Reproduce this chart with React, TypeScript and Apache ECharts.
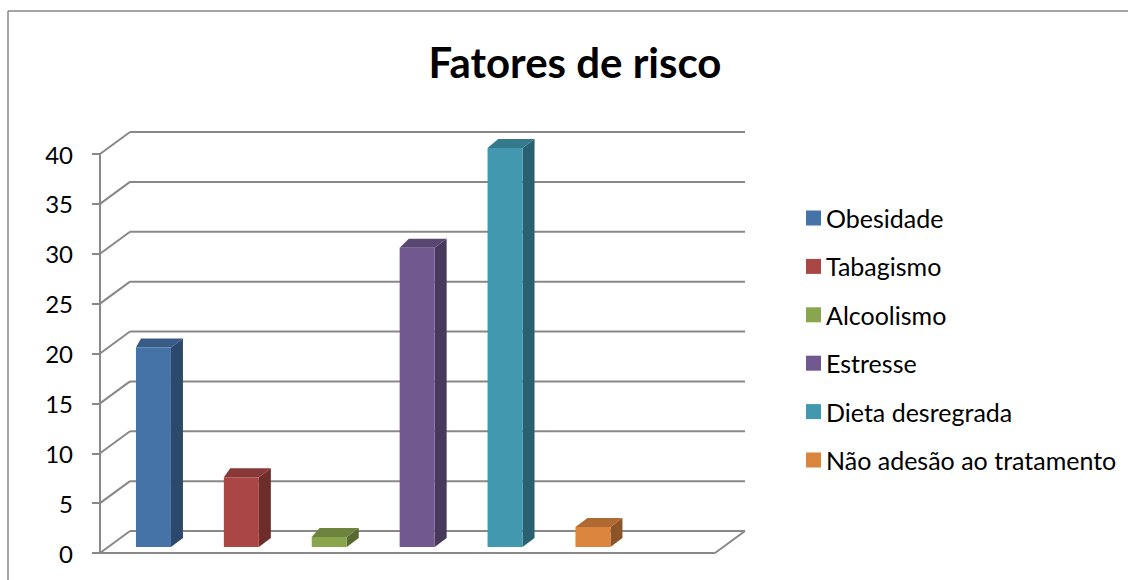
import React, { useEffect, useRef } from "react";
import * as echarts from "echarts";

const categories = [
  "Obesidade",
  "Tabagismo",
  "Alcoolismo",
  "Estresse",
  "Dieta desregrada",
  "Não adesão ao tratamento",
];
const values = [20, 7, 1, 30, 40, 2];
const colors = ["#4572A7", "#AA4643", "#89A54E", "#71588F", "#4198AF", "#DB843D"];
const yTicks = [0, 5, 10, 15, 20, 25, 30, 35, 40];
const titleText = "Fatores de risco";

const FONT = "Lato, 'Open Sans', sans-serif";
const GRID_COLOR = "#888888";
const DEPTH_X = 30;
const DEPTH_Y = -22;
const FLOOR_LEN = 615;

function shade(hex: string, k: number): string {
  const n = parseInt(hex.slice(1), 16);
  const r = Math.round(((n >> 16) & 255) * k);
  const g = Math.round(((n >> 8) & 255) * k);
  const b = Math.round((n & 255) * k);
  return `rgb(${r},${g},${b})`;
}

export default function App() {
  const ref = useRef<HTMLDivElement>(null);

  useEffect(() => {
    document.body.style.margin = "0";
    if (!ref.current) return;
    const chart = echarts.init(ref.current, undefined, { renderer: "svg" });

    const wallSeries: any = {
      type: "custom",
      name: "__walls",
      silent: true,
      z: 1,
      data: yTicks.map((v) => [0, v]),
      renderItem: (params: any, api: any) => {
        const cs = params.coordSys;
        const v = api.value(1);
        const y = api.coord([0, v])[1];
        const x = cs.x;
        const ls = { stroke: GRID_COLOR, lineWidth: 2 };
        const children: any[] = [
          { type: "line", shape: { x1: x, y1: y, x2: x + DEPTH_X, y2: y + DEPTH_Y }, style: ls },
          {
            type: "line",
            shape: { x1: x + DEPTH_X, y1: y + DEPTH_Y, x2: x + DEPTH_X + FLOOR_LEN, y2: y + DEPTH_Y },
            style: ls,
          },
        ];
        if (v === 0) {
          children.push(
            { type: "line", shape: { x1: x, y1: y, x2: x + FLOOR_LEN, y2: y }, style: ls },
            {
              type: "line",
              shape: { x1: x + FLOOR_LEN, y1: y, x2: x + FLOOR_LEN + DEPTH_X, y2: y + DEPTH_Y },
              style: ls,
            }
          );
        }
        return { type: "group", children };
      },
    };

    const barSeries: any[] = categories.map((name, idx) => ({
      type: "custom",
      name,
      z: 3,
      itemStyle: { color: colors[idx] },
      data: [[idx, values[idx]]],
      renderItem: (params: any, api: any) => {
        const i = api.value(0);
        const v = api.value(1);
        const b = api.coord([i, 0]);
        const t = api.coord([i, v]);
        const col = api.visual("color") as string;
        const cx = b[0] + 9.5;
        const yb = b[1] - 6;
        const yt = t[1] - 6;
        const w = 35;
        const x0 = cx - w / 2;
        const x1 = cx + w / 2;
        const dx = 12;
        const dy = -9;
        const dxl = 5 + i * 1.4;
        return {
          type: "group",
          children: [
            {
              type: "polygon",
              shape: { points: [[x1, yt], [x1 + dx, yt + dy], [x1 + dx, yb + dy], [x1, yb]] },
              style: { fill: shade(col, 0.64) },
            },
            {
              type: "polygon",
              shape: { points: [[x0, yt], [x1, yt], [x1 + dx, yt + dy], [x0 + dxl, yt + dy]] },
              style: { fill: shade(col, 0.8) },
            },
            {
              type: "rect",
              shape: { x: x0, y: yt, width: w, height: yb - yt },
              style: { fill: col },
            },
          ],
        };
      },
    }));

    chart.setOption({
      animation: false,
      backgroundColor: "#ffffff",
      grid: { left: 100, top: 154, width: 527.4, height: 399, containLabel: false },
      xAxis: {
        type: "category",
        data: categories,
        show: false,
      },
      yAxis: {
        type: "value",
        min: 0,
        max: 40,
        interval: 5,
        axisLine: { show: true, lineStyle: { color: GRID_COLOR, width: 2 } },
        axisTick: { show: true, length: 8, lineStyle: { color: GRID_COLOR, width: 2 } },
        axisLabel: { margin: 27, color: "#000", fontSize: 24, fontFamily: FONT },
        splitLine: { show: false },
      },
      legend: {
        data: categories,
        orient: "vertical",
        left: 801,
        top: 200,
        icon: "rect",
        itemWidth: 15,
        itemHeight: 15,
        itemGap: 22.4,
        textStyle: { fontSize: 25, fontFamily: FONT, color: "#000", lineHeight: 26 },
        selectedMode: false,
      },
      graphic: [
        {
          type: "line",
          shape: { x1: 8, y1: 11, x2: 1128, y2: 11 },
          style: { stroke: "#878787", lineWidth: 1.5 },
          silent: true,
        },
        {
          type: "line",
          shape: { x1: 8, y1: 11, x2: 8, y2: 580 },
          style: { stroke: "#878787", lineWidth: 1.5 },
          silent: true,
        },
        {
          type: "text",
          x: 575,
          y: 62,
          style: {
            text: titleText,
            textAlign: "center",
            textVerticalAlign: "middle",
            fontSize: 42,
            fontWeight: "bold",
            fontFamily: FONT,
            fill: "#000",
          },
        },
      ],
      series: [wallSeries, ...barSeries],
    });

    return () => chart.dispose();
  }, []);

  return <div ref={ref} style={{ width: 1128, height: 580 }} />;
}
